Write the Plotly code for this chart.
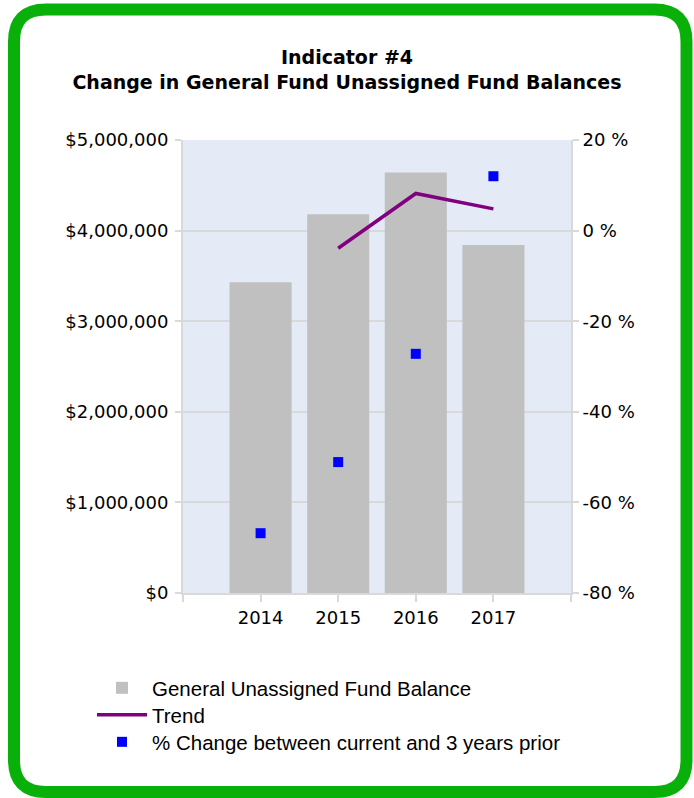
import plotly.graph_objects as go

W, H = 694, 798

years = ["2014", "2015", "2016", "2017"]
fund_balance = [3430000, 4180000, 4640000, 3840000]
trend_years = ["2015", "2016", "2017"]
trend_pct = [-3.9, 8.2, 4.8]
pct_change = [-66.8, -51.1, -27.2, 12.0]

left_ticks = [0, 1000000, 2000000, 3000000, 4000000, 5000000]
left_labels = ["$0", "$1,000,000", "$2,000,000", "$3,000,000", "$4,000,000", "$5,000,000"]
right_ticks = [-80, -60, -40, -20, 0, 20]
right_labels = ["-80 %", "-60 %", "-40 %", "-20 %", "0 %", "20 %"]

xpos = {y: i for i, y in enumerate(years)}

def px(x):
    return x / W

def py(y):
    return 1 - y / H

# plot area pixel bounds
PL, PR, PT, PB = 183, 571, 140, 593

tick_font = dict(family="DejaVu Sans", size=18, color="#000000")

fig = go.Figure()
fig.add_trace(go.Bar(
    x=[xpos[y] for y in years], y=fund_balance, name="General Unassigned Fund Balance",
    marker=dict(color="#C0C0C0", line=dict(width=0)), width=0.8, yaxis="y",
    legend="legend",
))
fig.add_trace(go.Scatter(
    x=[xpos[y] for y in trend_years], y=trend_pct, name="Trend", mode="lines",
    line=dict(color="#800080", width=3.5), yaxis="y2", legend="legend2",
))
fig.add_trace(go.Scatter(
    x=[xpos[y] for y in years], y=pct_change, name="% Change between current and 3 years prior",
    mode="markers", marker=dict(color="#0000FF", symbol="square", size=10, line=dict(width=0)),
    yaxis="y2", legend="legend3",
))

# rounded green border
x0, x1, y0, y1, r = 14, 686.5, 9.5, 792, 32
path = (
    f"M {px(x0 + r)},{py(y0)} L {px(x1 - r)},{py(y0)} "
    f"Q {px(x1)},{py(y0)} {px(x1)},{py(y0 + r)} "
    f"L {px(x1)},{py(y1 - r)} Q {px(x1)},{py(y1)} {px(x1 - r)},{py(y1)} "
    f"L {px(x0 + r)},{py(y1)} Q {px(x0)},{py(y1)} {px(x0)},{py(y1 - r)} "
    f"L {px(x0)},{py(y0 + r)} Q {px(x0)},{py(y0)} {px(x0 + r)},{py(y0)} Z"
)

legend_font = dict(family="Liberation Sans", size=20.5, color="#000000")

def leg(ycenter):
    return dict(
        x=px(92), y=py(ycenter), xanchor="left", yanchor="middle",
        font=legend_font, bgcolor="rgba(0,0,0,0)", itemwidth=50,
    )

fig.update_layout(
    width=W, height=H,
    margin=dict(l=0, r=0, t=0, b=0),
    paper_bgcolor="#FFFFFF",
    plot_bgcolor="#E4EBF7",
    title=dict(
        text="<b>Indicator #4<br>Change in General Fund Unassigned Fund Balances</b>",
        x=0.5, xanchor="center", y=py(64), yanchor="top",
        font=dict(family="DejaVu Sans", size=19, color="#000000"),
    ),
    xaxis=dict(
        domain=[px(PL), px(PR)], range=[-1, 4],
        tickvals=[-1, 0, 1, 2, 3, 4], ticktext=["", "2014", "2015", "2016", "2017", ""],
        ticks="outside", ticklen=7, tickwidth=2, tickcolor="#D9D9D9",
        showline=True, linecolor="#D9D9D9", linewidth=2,
        showgrid=False, zeroline=False, tickfont=tick_font, automargin=False,
    ),
    yaxis=dict(
        domain=[py(PB), py(PT)], range=[0, 5000000],
        tickvals=left_ticks, ticktext=left_labels,
        ticks="outside", ticklen=6, tickwidth=2, tickcolor="#D9D9D9",
        showline=True, linecolor="#D9D9D9", linewidth=2,
        showgrid=True, gridcolor="#D9D9D9", gridwidth=2, zeroline=False,
        tickfont=tick_font, automargin=False, ticklabelstandoff=3,
    ),
    yaxis2=dict(
        overlaying="y", side="right", range=[-80, 20],
        tickvals=right_ticks, ticktext=right_labels,
        ticks="outside", ticklen=6, tickwidth=2, tickcolor="#D9D9D9",
        showline=True, linecolor="#D9D9D9", linewidth=2,
        showgrid=False, zeroline=False, tickfont=tick_font, automargin=False,
    ),
    legend=leg(688),
    legend2=leg(715),
    legend3=leg(742),
    showlegend=True,
    bargap=0.2,
    shapes=[dict(type="path", path=path, xref="paper", yref="paper",
                 line=dict(color="#0AB00A", width=12), fillcolor="rgba(0,0,0,0)", layer="above")],
)

fig.write_html("out.html", config={"displayModeBar": False},
               post_script="document.body.style.margin='0';")
